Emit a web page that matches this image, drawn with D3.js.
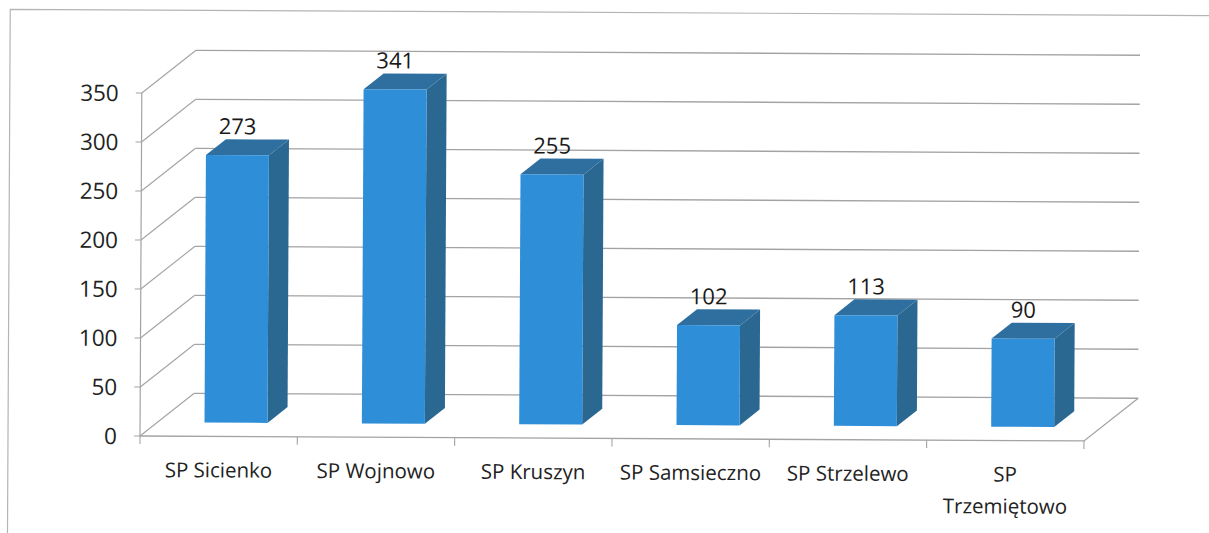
<!DOCTYPE html>
<html>
<head>
<meta charset="utf-8">
<script src="https://d3js.org/d3.v7.min.js"></script>
<style>
  body { margin: 0; background: #fff; }
  svg { display: block; }
</style>
</head>
<body>
<svg id="chart"></svg>
<script>
// data
let categories = ["SP Sicienko", "SP Wojnowo", "SP Kruszyn", "SP Samsieczno", "SP Strzelewo", "SP Trzemiętowo"]
let values = [273, 341, 255, 102, 113, 90]
let yTicks = [0, 50, 100, 150, 200, 250, 300, 350]

let w = 1209, h = 533
let font = "'Open Sans', 'DejaVu Sans', sans-serif"

// depth of the 3d box and where the bars sit inside it
let depth = {dx: 54, dy: -43}
let barFront = 0.32, barBack = 0.69

let svg = d3.select("#chart")
    .attr("width", w)
    .attr("height", h)

// scan is tilted a little
let g = svg.append("g")
    .attr("transform", "rotate(0.3, 140, 436)")

let x = d3.scaleBand()
    .domain(categories)
    .range([140, 1084])

let y = d3.scaleLinear()
    .domain([0, 350])
    .range([436, 93])

function proj(px, v, f) {
    return [px + f * depth.dx, y(v) + f * depth.dy]
}

// outer frame (only top and left visible)
g.append("path")
    .attr("d", "M8,545 L8,10 L1240,10")
    .attr("fill", "none")
    .attr("stroke", "#b4b4b4")
    .attr("stroke-width", 1.2)

let gridColor = "#a3a3a3"

// back wall gridlines + left wall diagonals
yTicks.forEach(t => {
    let a = proj(x.range()[0], t, 0), b = proj(x.range()[0], t, 1), c = proj(x.range()[1], t, 1)
    g.append("line")
        .attr("x1", b[0]).attr("y1", b[1])
        .attr("x2", c[0]).attr("y2", c[1])
        .attr("stroke", gridColor).attr("stroke-width", 1.3)
    g.append("line")
        .attr("x1", a[0]).attr("y1", a[1])
        .attr("x2", b[0]).attr("y2", b[1])
        .attr("stroke", gridColor).attr("stroke-width", 1.1)
    // tick
    g.append("line")
        .attr("x1", a[0] - 6).attr("y1", a[1])
        .attr("x2", a[0]).attr("y2", a[1])
        .attr("stroke", gridColor).attr("stroke-width", 1.1)
    g.append("text")
        .attr("x", 117).attr("y", a[1])
        .attr("dy", "0.36em")
        .attr("text-anchor", "end")
        .attr("font-family", font)
        .attr("font-size", 22.5)
        .attr("fill", "#222")
        .text(t)
})

// front vertical axis
g.append("line")
    .attr("x1", x.range()[0]).attr("y1", y(0))
    .attr("x2", x.range()[0]).attr("y2", y(350))
    .attr("stroke", gridColor).attr("stroke-width", 1.2)

// floor front edge + right edge
let fr = proj(x.range()[1], 0, 0), br = proj(x.range()[1], 0, 1)
g.append("path")
    .attr("d", "M" + x.range()[0] + "," + y(0) + " L" + fr[0] + "," + fr[1] + " L" + br[0] + "," + br[1])
    .attr("fill", "none")
    .attr("stroke", gridColor).attr("stroke-width", 1.3)

// category ticks
let bounds = categories.map(c => x(c)).concat([x.range()[1]])
bounds.forEach(bx => {
    g.append("line")
        .attr("x1", bx).attr("y1", y(0))
        .attr("x2", bx).attr("y2", y(0) + 8)
        .attr("stroke", gridColor).attr("stroke-width", 1.1)
})

// bars
let barW = 63
let colFront = "#2e8ed8", colTop = "#2e6f9f", colSide = "#2a6791"

categories.forEach((c, i) => {
    let v = values[i]
    let x0 = x(c) + (x.bandwidth() - barW) / 2
    let x1 = x0 + barW
    let p = (px, val, f) => proj(px, val, f).join(",")
    // side
    g.append("path")
        .attr("d", "M" + p(x1, 0, barFront) + " L" + p(x1, 0, barBack) + " L" + p(x1, v, barBack) + " L" + p(x1, v, barFront) + "Z")
        .attr("fill", colSide)
    // top
    g.append("path")
        .attr("d", "M" + p(x0, v, barFront) + " L" + p(x0, v, barBack) + " L" + p(x1, v, barBack) + " L" + p(x1, v, barFront) + "Z")
        .attr("fill", colTop)
    // front
    g.append("path")
        .attr("d", "M" + p(x0, 0, barFront) + " L" + p(x1, 0, barFront) + " L" + p(x1, v, barFront) + " L" + p(x0, v, barFront) + "Z")
        .attr("fill", colFront)

    let top = proj((x0 + x1) / 2, v, barFront)
    g.append("text")
        .attr("x", top[0]).attr("y", top[1] - 21)
        .attr("text-anchor", "middle")
        .attr("font-family", font)
        .attr("font-size", 22)
        .attr("fill", "#1a1a1a")
        .text(v)
})

// category labels, wrapped when too wide
categories.forEach(c => {
    let t = g.append("text")
        .attr("x", x(c) + x.bandwidth() / 2)
        .attr("y", 477)
        .attr("text-anchor", "middle")
        .attr("font-family", font)
        .attr("font-size", 20.5)
        .attr("fill", "#222")
        .text(c)
    if (t.node().getComputedTextLength() > 150) {
        let words = c.split(" ")
        t.text(null)
        words.forEach((wd, k) => {
            t.append("tspan")
                .attr("x", x(c) + x.bandwidth() / 2)
                .attr("dy", k == 0 ? 0 : 32)
                .text(wd)
        })
    }
})
</script>
</body>
</html>
